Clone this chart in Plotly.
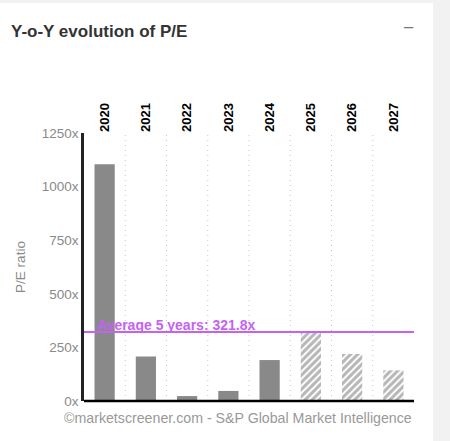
import plotly.graph_objects as go

years = ["2020", "2021", "2022", "2023", "2024", "2025", "2026", "2027"]
pe_values = [1104, 207, 23, 47, 191, 324, 219, 143]
estimate = [False, False, False, False, False, True, True, True]
average_value = 321.8
y_ticks = [0, 250, 500, 750, 1000, 1250]
y_tick_labels = ["0x", "250x", "500x", "750x", "1000x", "1250x"]

W, H = 450, 441
L, R, T, B = 84, 36, 133, 40
pw = W - L - R
ph = H - T - B

def px_x(px):
    return (px - L) / pw

def px_y(py):
    return (H - B - py) / ph

fig = go.Figure()

real_x = [y for y, e in zip(years, estimate) if not e]
real_v = [v for v, e in zip(pe_values, estimate) if not e]
est_x = [y for y, e in zip(years, estimate) if e]
est_v = [v for v, e in zip(pe_values, estimate) if e]

fig.add_trace(go.Bar(x=real_x, y=real_v, marker=dict(color="#898989", line=dict(width=0)),
                     hoverinfo="x+y", showlegend=False))
fig.add_trace(go.Bar(x=est_x, y=est_v,
                     marker=dict(color="white", line=dict(width=0),
                                 pattern=dict(shape="/", fgcolor="#6e6e6e", bgcolor="white",
                                              size=5, solidity=0.6)),
                     hoverinfo="x+y", showlegend=False))

shapes = [
    dict(type="rect", xref="paper", yref="paper", x0=px_x(0), x1=px_x(433), y0=px_y(441), y1=px_y(3),
         fillcolor="white", line=dict(width=0), layer="below"),
    dict(type="line", xref="paper", yref="paper", x0=0, x1=1, y0=0, y1=0,
         line=dict(color="black", width=2.5)),
    dict(type="line", xref="paper", yref="y", x0=0, x1=1, y0=average_value, y1=average_value,
         line=dict(color="#c562f0", width=2)),
]

fig.update_layout(
    width=W, height=H,
    margin=dict(l=L, r=R, t=T, b=B, pad=0),
    paper_bgcolor="#f2f2f2",
    plot_bgcolor="rgba(0,0,0,0)",
    bargap=0.51,
    barmode="overlay",
    showlegend=False,
    font=dict(family="Arial, Liberation Sans, sans-serif"),
    shapes=shapes,
    xaxis=dict(
        type="category", categoryorder="array", categoryarray=years,
        tickvals=years, ticktext=["<b>" + y + "</b>" for y in years],
        side="top", tickangle=-90,
        tickfont=dict(size=13, color="black", family="Arial, Liberation Sans, sans-serif"),
        showline=False, ticks="", showgrid=False, zeroline=False, fixedrange=True,
        range=[-0.5, len(years) - 0.5],
    ),
    yaxis=dict(
        range=[0, 1250], tickvals=y_ticks, ticktext=y_tick_labels,
        tickfont=dict(size=13.5, color="#8a8a8a"),
        showline=True, linecolor="#222", linewidth=2.5,
        showgrid=False, zeroline=False, ticks="", fixedrange=True,
        title=dict(text="P/E ratio", font=dict(size=13.5, color="#8a8a8a"), standoff=14),
    ),
    annotations=[
        dict(text="<b>Y-o-Y evolution of P/E</b>", xref="paper", yref="paper",
             x=px_x(9), y=px_y(32), xanchor="left", yanchor="middle", showarrow=False,
             font=dict(size=17, color="#333333")),
        dict(text="−", xref="paper", yref="paper", x=px_x(408), y=px_y(27),
             xanchor="center", yanchor="middle", showarrow=False,
             font=dict(size=19, color="#777777")),
        dict(text="<b>Average 5 years: 321.8x</b>", xref="paper", yref="y",
             x=px_x(95), y=average_value, xanchor="left", yanchor="bottom", showarrow=False,
             font=dict(size=14, color="#c562f0", family="Arial, Liberation Sans, sans-serif"),
             yshift=-3),
        dict(text="©marketscreener.com - S&P Global Market Intelligence", xref="paper", yref="paper",
             x=1, y=px_y(408), xanchor="right", yanchor="top", showarrow=False,
             font=dict(size=14.2, color="#999999")),
    ],
)

for i in range(len(years) - 1):
    fig.add_shape(type="line", xref="x", yref="paper", x0=i + 0.5, x1=i + 0.5, y0=0, y1=1,
                  line=dict(color="#c8c8c8", width=1, dash="1px,4px"), layer="below")

fig.write_html("out.html")
